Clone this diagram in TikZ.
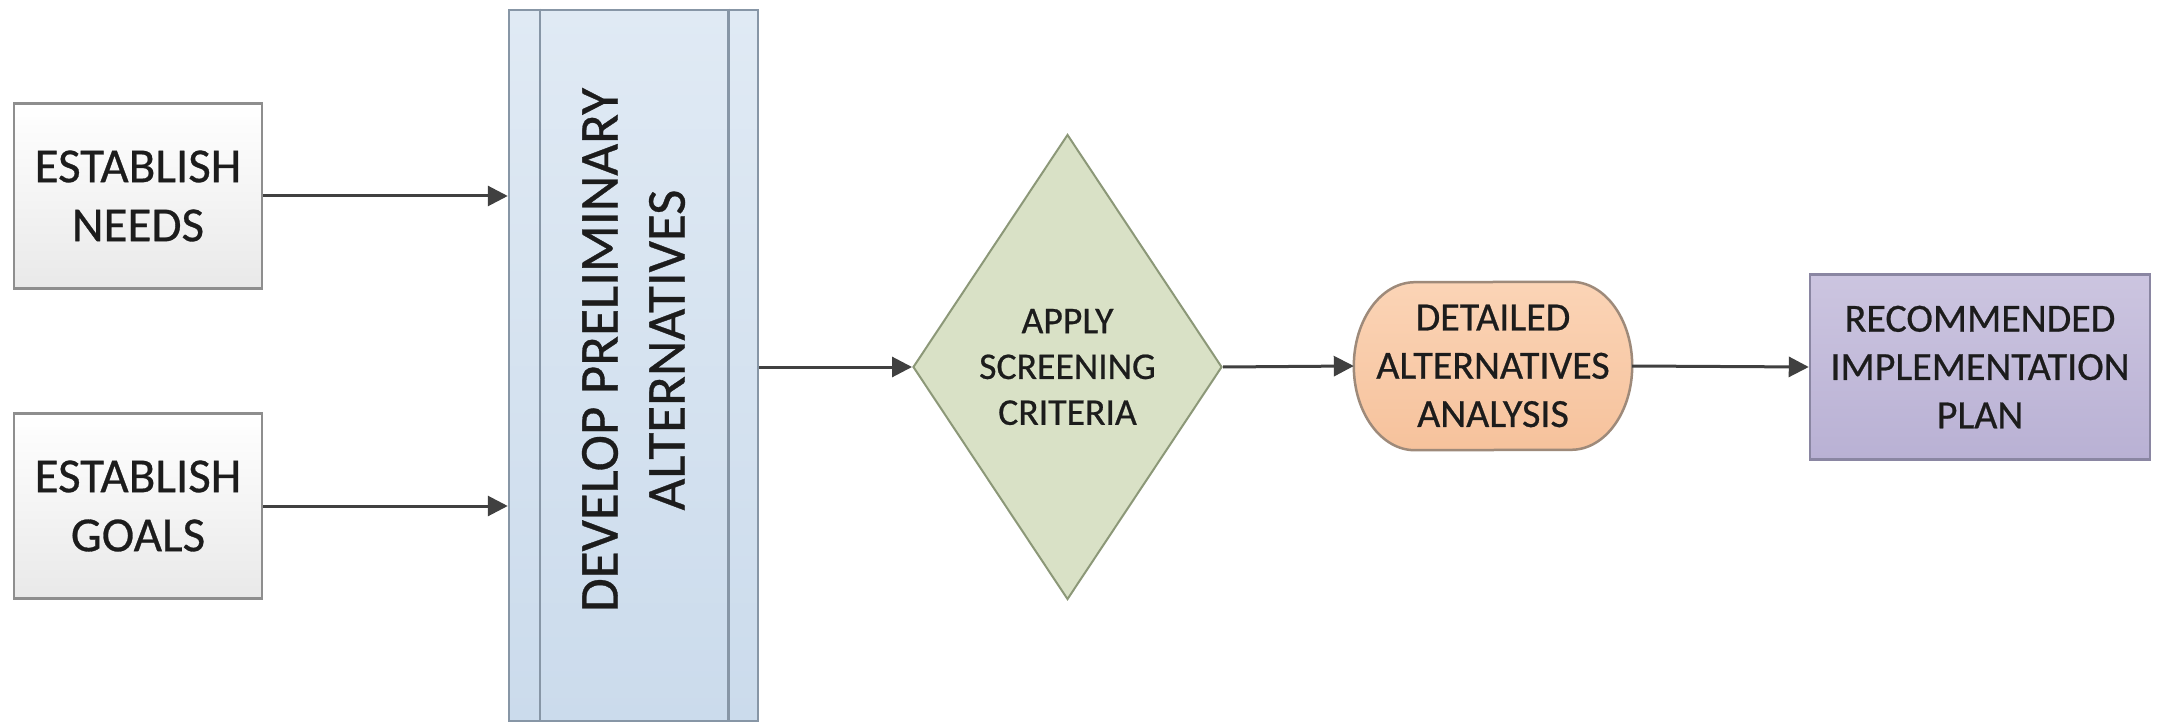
\documentclass[tikz,border=0pt]{standalone}
\usepackage{fontspec}
\setmainfont{Carlito}[FakeBold=0.6]
\usetikzlibrary{arrows.meta,shapes.geometric,backgrounds,calc}
\definecolor{txt}{HTML}{1C1C1C}
\definecolor{arrowc}{HTML}{404040}
\definecolor{grayline}{HTML}{8E8E8E}
\definecolor{graybot}{HTML}{E9E9E9}
\definecolor{blueline}{HTML}{8796A6}
\definecolor{bluetop}{HTML}{E0EAF4}
\definecolor{bluebot}{HTML}{CBDBEC}
\definecolor{greenfill}{HTML}{D9E1C6}
\definecolor{greenline}{HTML}{8C9878}
\definecolor{peachtop}{HTML}{FBD4B6}
\definecolor{peachbot}{HTML}{F6C29C}
\definecolor{peachline}{HTML}{9E8A7A}
\definecolor{purptop}{HTML}{CCC5E0}
\definecolor{purpbot}{HTML}{B9B1D4}
\definecolor{purpline}{HTML}{8A86A2}
\begin{document}
\begin{tikzpicture}[x=1pt,y=1pt,
  every node/.style={text=txt, inner sep=0pt, align=center},
  graybox/.style={rectangle, draw=grayline, line width=2.5pt, top color=white, bottom color=graybot,
    minimum width=248pt, minimum height=185pt, font=\fontsize{49}{59}\selectfont},
  devbox/.style={rectangle, draw=blueline, line width=2.5pt, top color=bluetop, bottom color=bluebot,
    minimum width=249pt, minimum height=711pt},
  devtxt/.style={rotate=90, font=\fontsize{55}{67}\selectfont},
  screen/.style={diamond, aspect=0.66, draw=greenline, line width=2pt, fill=greenfill,
    minimum width=309pt, minimum height=465pt, font=\fontsize{37.7}{45.8}\selectfont},
  detbox/.style={rectangle, minimum width=278pt, minimum height=168pt, font=\fontsize{40}{48.3}\selectfont},
  detshape/.style={draw=peachline, line width=2.5pt, top color=peachtop, bottom color=peachbot},
  planbox/.style={rectangle, draw=purpline, line width=2.5pt, top color=purptop, bottom color=purpbot,
    minimum width=340pt, minimum height=185pt, font=\fontsize{40}{48.3}\selectfont},
  conn/.style={draw=arrowc, line width=3pt, -{Triangle[length=20pt,width=20pt]}},
  innerline/.style={draw=blueline, line width=2.5pt}
]
\useasboundingbox (0,0) rectangle (2162,724);

\node[graybox] (needs) at (138,528) {ESTABLISH\\NEEDS};
\node[graybox] (goals) at (138,218) {ESTABLISH\\GOALS};

\node[devbox] (dev) at (633.5,358.5) {};
\draw[innerline] ($(dev.north west)+(32,0)$) -- ($(dev.south west)+(32,0)$);
\draw[innerline] ($(dev.north east)+(-31,0)$) -- ($(dev.south east)+(-31,0)$);
\node[devtxt] (devtext) at (633.5,374) {DEVELOP PRELIMINARY\\ALTERNATIVES};

\node[screen] (apply) at (1067.5,357) {APPLY\\SCREENING\\CRITERIA};

\node[detbox] (det) at (1493,358) {DETAILED\\ALTERNATIVES\\ANALYSIS};
\begin{scope}[on background layer]
\fill[white] (0,0) rectangle (2162,724);
\path[detshape] ($(det.north east)+(-61,0)$)
  arc[start angle=90, end angle=0, x radius=61pt, y radius=84pt]
  arc[start angle=0, end angle=-90, x radius=61pt, y radius=84pt]
  -- ($(det.south west)+(61,0)$)
  arc[start angle=270, end angle=180, x radius=61pt, y radius=84pt]
  arc[start angle=180, end angle=90, x radius=61pt, y radius=84pt]
  -- cycle;
\end{scope}

\node[planbox] (plan) at (1980,357) {RECOMMENDED\\IMPLEMENTATION\\PLAN};

\draw[conn] (needs.east) -- (needs.east -| dev.west);
\draw[conn] (goals.east) -- (goals.east -| dev.west);
\draw[conn] (dev.east |- apply.west) -- (apply.west);
\draw[conn] (apply.east) -- (det.west);
\draw[conn] (det.east) -- (plan.west);
\end{tikzpicture}
\end{document}
